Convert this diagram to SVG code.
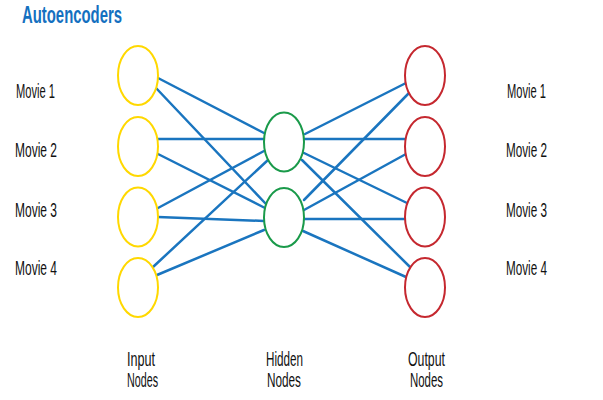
<svg xmlns="http://www.w3.org/2000/svg" width="603" height="400" viewBox="0 0 603 400">
<style>
.t{font-family:"Liberation Sans",Arial,sans-serif;font-size:20px;fill:#111}
.title{font-family:"Liberation Sans",Arial,sans-serif;font-size:23.5px;font-weight:bold;fill:#1470c0}
.in{fill:#fff;stroke:#ffd800;stroke-width:2}
.hid{fill:#fff;stroke:#1a9a4a;stroke-width:2}
.out{fill:#fff;stroke:#c5282f;stroke-width:2}
#connectors line{stroke:#1a75bf;stroke-width:2.5;stroke-linecap:round}
</style>
<rect width="603" height="400" fill="#fff"/>
<text class="title" x="22" y="23" textLength="100" lengthAdjust="spacingAndGlyphs">Autoencoders</text>
<g id="connectors">
<line x1="158" y1="78" x2="264" y2="133"/>
<line x1="156" y1="88" x2="266" y2="204"/>
<line x1="158" y1="139" x2="264" y2="139"/>
<line x1="158" y1="154" x2="265" y2="208"/>
<line x1="158" y1="208" x2="264" y2="151"/>
<line x1="158" y1="217" x2="264" y2="221"/>
<line x1="153" y1="267" x2="268" y2="160"/>
<line x1="157" y1="275" x2="264" y2="230"/>
<line x1="305" y1="134" x2="406" y2="83"/>
<line x1="304" y1="139" x2="405" y2="139"/>
<line x1="304" y1="153" x2="407" y2="203"/>
<line x1="302" y1="160" x2="410" y2="267"/>
<line x1="304" y1="200" x2="409" y2="93"/>
<line x1="304" y1="210" x2="406" y2="154"/>
<line x1="304" y1="219" x2="405" y2="219"/>
<line x1="303" y1="231" x2="406" y2="277"/>
</g>
<g id="input1"><ellipse class="in" cx="138" cy="75.5" rx="20" ry="29.5"/></g>
<g id="input2"><ellipse class="in" cx="138" cy="146.5" rx="20" ry="29.5"/></g>
<g id="input3"><ellipse class="in" cx="138" cy="217" rx="20" ry="29.5"/></g>
<g id="input4"><ellipse class="in" cx="138" cy="287.5" rx="20" ry="29.5"/></g>
<g id="hidden1"><ellipse class="hid" cx="284" cy="142" rx="20" ry="29.5"/></g>
<g id="hidden2"><ellipse class="hid" cx="284" cy="217.5" rx="20" ry="29.5"/></g>
<g id="output1"><ellipse class="out" cx="425" cy="75.5" rx="20" ry="29.5"/></g>
<g id="output2"><ellipse class="out" cx="425" cy="146.5" rx="20" ry="29.5"/></g>
<g id="output3"><ellipse class="out" cx="425" cy="217" rx="20" ry="29.5"/></g>
<g id="output4"><ellipse class="out" cx="425" cy="287.5" rx="20" ry="29.5"/></g>
<g id="labels-left">
<text class="t" x="16" y="98" textLength="39" lengthAdjust="spacingAndGlyphs">Movie 1</text>
<text class="t" x="15" y="157" textLength="42" lengthAdjust="spacingAndGlyphs">Movie 2</text>
<text class="t" x="15" y="217" textLength="42" lengthAdjust="spacingAndGlyphs">Movie 3</text>
<text class="t" x="15" y="275" textLength="42" lengthAdjust="spacingAndGlyphs">Movie 4</text>
</g>
<g id="labels-right">
<text class="t" x="507" y="98" textLength="39" lengthAdjust="spacingAndGlyphs">Movie 1</text>
<text class="t" x="506" y="157" textLength="41" lengthAdjust="spacingAndGlyphs">Movie 2</text>
<text class="t" x="506" y="217" textLength="41" lengthAdjust="spacingAndGlyphs">Movie 3</text>
<text class="t" x="506" y="275" textLength="41" lengthAdjust="spacingAndGlyphs">Movie 4</text>
</g>
<g id="layer-labels">
<text class="t" x="127" y="366" textLength="28" lengthAdjust="spacingAndGlyphs">Input</text>
<text class="t" x="127" y="387" textLength="31" lengthAdjust="spacingAndGlyphs">Nodes</text>
<text class="t" x="266" y="366" textLength="37" lengthAdjust="spacingAndGlyphs">Hidden</text>
<text class="t" x="267" y="387" textLength="34" lengthAdjust="spacingAndGlyphs">Nodes</text>
<text class="t" x="408" y="366" textLength="37" lengthAdjust="spacingAndGlyphs">Output</text>
<text class="t" x="410" y="387" textLength="33" lengthAdjust="spacingAndGlyphs">Nodes</text>
</g>
</svg>
